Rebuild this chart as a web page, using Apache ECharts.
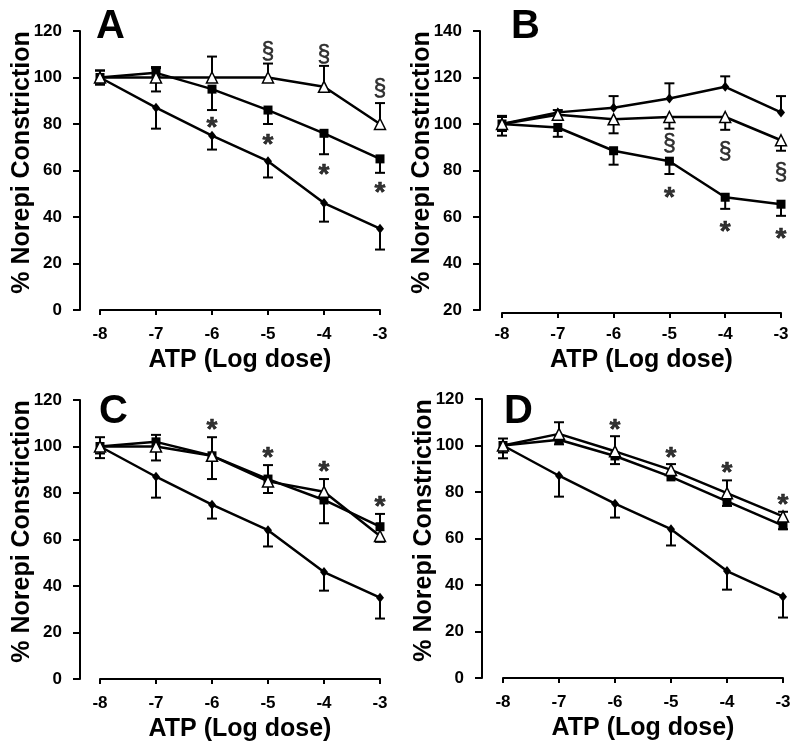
<!DOCTYPE html>
<html lang="en">
<head>
<meta charset="UTF-8">
<title>ATP dose response</title>
<script src="https://cdn.jsdelivr.net/npm/echarts@6/dist/echarts.min.js"></script>
<style>
body { margin: 0; background: #fff; }
#main { width: 800px; height: 748px; }
</style>
</head>
<body>
<div id="main"></div>
<script>
// doses (log M)
var doses = [-8, -7, -6, -5, -4, -3];

// panel A
var aCtrl = [100, 87, 75, 64, 46, 35];
var aCtrlLo = [97, 78, 69, 57, 38, 26];
var aCtrlHi = [103, null, null, null, null, null];
var aSq = [100, 102, 95, 86, 76, 65];
var aSqLo = [97, null, 86, 80, 67, 59];
var aSqHi = [null, 104.5, null, null, null, null];
var aTri = [100, 100, 100, 100, 96, 80];
var aTriLo = [null, 94, null, null, null, null];
var aTriHi = [103, 104, 109, 106, 105, 89];
var aStar = [[-6, 81], [-5, 74], [-4, 61], [-3, 53]];
var aSect = [[-5, 111], [-4, 110], [-3, 95]];

// panel B
var bCtrl = [100, 105, 107, 111, 116, 105];
var bCtrlLo = [97, null, null, null, null, null];
var bCtrlHi = [103, 106, 112, 117.5, 120.5, 112];
var bSq = [100, 98.5, 88.5, 84, 68.5, 65.5];
var bSqLo = [95, 94.5, 82.5, 78.5, 63.5, 60.5];
var bSqHi = [null, null, null, null, null, null];
var bTri = [100, 104, 102, 103, 103, 93];
var bTriLo = [null, null, 96, 98, 97.5, 88.5];
var bTriHi = [103.5, null, null, null, null, null];
var bStar = [[-5, 71], [-4, 56.5], [-3, 53.5]];
var bSect = [[-5, 91.5], [-4, 88], [-3, 79]];

// panel C
var cCtrl = [100, 87, 75, 64, 46, 35];
var cCtrlLo = [97, 78, 69, 57, 38, 26];
var cCtrlHi = [null, null, null, null, null, null];
var cSq = [100, 102, 96, 86, 77, 65.5];
var cSqLo = [95, null, 86, null, 67, null];
var cSqHi = [null, null, null, null, null, null];
var cTri = [100, 100, 96, 85, 80.5, 61.5];
var cTriLo = [null, 94, null, 80, null, 59];
var cTriHi = [104, 105, 104, 92, 86, 71];
var cStar = [[-6, 110], [-5, 98], [-4, 92], [-3, 77]];

// panel D
var dCtrl = [100, 87, 75, 64, 46, 35];
var dCtrlLo = [97, 78, 69, 57, 38, 26];
var dCtrlHi = [null, null, null, null, null, null];
var dSq = [100, 102.5, 95.5, 86.5, 76, 65.5];
var dSqLo = [94.5, 100.5, 92, null, 74, 64];
var dSqHi = [103, null, null, null, null, null];
var dTri = [100, 105, 97.5, 89.5, 79.5, 69.5];
var dTriLo = [null, null, null, null, null, null];
var dTriHi = [null, 110, 104, 92, 85, 71.5];
var dStar = [[-6, 109.5], [-5, 97.5], [-4, 91], [-3, 77.5]];

var FONT = 'Liberation Sans, Arial, sans-serif';

function pts(ys) {
    return doses.map(function (x, i) { return [x, ys[i]]; });
}

function bars(ys, lo, hi) {
    var out = [];
    doses.forEach(function (x, i) {
        if (lo[i] != null) out.push([x, ys[i], lo[i]]);
        if (hi[i] != null) out.push([x, ys[i], hi[i]]);
    });
    return out;
}

function errRender(params, api) {
    var x = api.value(0);
    var p0 = api.coord([x, api.value(1)]);
    var p1 = api.coord([x, api.value(2)]);
    var w = 5;
    return {
        type: 'group',
        children: [
            { type: 'line', shape: { x1: p0[0], y1: p0[1], x2: p1[0], y2: p1[1] },
              style: { stroke: '#000', lineWidth: 2 } },
            { type: 'line', shape: { x1: p1[0] - w, y1: p1[1], x2: p1[0] + w, y2: p1[1] },
              style: { stroke: '#000', lineWidth: 2 } }
        ]
    };
}

var series = [];
function addPanel(idx, ctrl, ctrlLo, ctrlHi, sq, sqLo, sqHi, tri, triLo, triHi, stars, sects) {
    var common = { xAxisIndex: idx, yAxisIndex: idx };
    [[ctrl, ctrlLo, ctrlHi], [sq, sqLo, sqHi], [tri, triLo, triHi]].forEach(function (s) {
        series.push(Object.assign({
            type: 'custom', renderItem: errRender, clip: false, z: 2,
            data: bars(s[0], s[1], s[2])
        }, common));
    });
    series.push(Object.assign({
        type: 'line', data: pts(ctrl), symbol: 'diamond', symbolSize: [8, 10],
        lineStyle: { color: '#000', width: 2.5 }, itemStyle: { color: '#000' }, z: 3
    }, common));
    series.push(Object.assign({
        type: 'line', data: pts(sq), symbol: 'rect', symbolSize: 9,
        lineStyle: { color: '#000', width: 2.5 }, itemStyle: { color: '#000' }, z: 3
    }, common));
    series.push(Object.assign({
        type: 'line', data: pts(tri), symbol: 'triangle', symbolSize: 11,
        lineStyle: { color: '#000', width: 2.5 },
        itemStyle: { color: '#fff', borderColor: '#000', borderWidth: 1.5 }, z: 4
    }, common));
    series.push(Object.assign({
        type: 'scatter', data: stars, symbol: 'circle', symbolSize: 1,
        itemStyle: { color: 'rgba(0,0,0,0)' }, z: 5,
        label: { show: true, position: 'inside', formatter: '*', color: '#000',
                 fontSize: 28, fontWeight: 'bold', fontFamily: FONT, offset: [0, 7],
                 textBorderColor: '#000', textBorderWidth: 0.6 }
    }, common));
    if (sects) {
        series.push(Object.assign({
            type: 'scatter', data: sects, symbol: 'circle', symbolSize: 1,
            itemStyle: { color: 'rgba(0,0,0,0)' }, z: 5,
            label: { show: true, position: 'inside', formatter: '\u00a7', color: '#000',
                     fontSize: 23, fontFamily: FONT, offset: [0, 1],
                     textBorderColor: '#000', textBorderWidth: 0.5 }
        }, common));
    }
}

addPanel(0, aCtrl, aCtrlLo, aCtrlHi, aSq, aSqLo, aSqHi, aTri, aTriLo, aTriHi, aStar, aSect);
addPanel(1, bCtrl, bCtrlLo, bCtrlHi, bSq, bSqLo, bSqHi, bTri, bTriLo, bTriHi, bStar, bSect);
addPanel(2, cCtrl, cCtrlLo, cCtrlHi, cSq, cSqLo, cSqHi, cTri, cTriLo, cTriHi, cStar, null);
addPanel(3, dCtrl, dCtrlLo, dCtrlHi, dSq, dSqLo, dSqHi, dTri, dTriLo, dTriHi, dStar, null);

var grids = [
    { left: 100, top: 31, width: 280, height: 279 },
    { left: 502, top: 31, width: 279, height: 279 },
    { left: 100, top: 400, width: 280, height: 279 },
    { left: 503, top: 399, width: 280, height: 279 }
];
var yRanges = [[0, 120], [20, 140], [0, 120], [0, 120]];
var yOffsets = [20, 22, 20, 21];

function xAx(i) {
    return {
        type: 'value', gridIndex: i, min: -8, max: -3, interval: 1, offset: 3,
        axisLine: { lineStyle: { color: '#000', width: 2 } },
        axisTick: { length: 5, lineStyle: { color: '#000', width: 2 } },
        splitLine: { show: false },
        axisLabel: { color: '#000', fontSize: 17, fontWeight: 'bold', fontFamily: FONT, margin: 13 },
        name: 'ATP (Log dose)', nameLocation: 'middle', nameGap: 35, nameMoveOverlap: false,
        nameTextStyle: { color: '#000', fontSize: 25, fontWeight: 'bold', fontFamily: FONT }
    };
}
function yAx(i) {
    return {
        type: 'value', gridIndex: i, min: yRanges[i][0], max: yRanges[i][1], interval: 20,
        offset: yOffsets[i],
        axisLine: { show: true, lineStyle: { color: '#000', width: 2 } },
        axisTick: { show: true, length: 7, lineStyle: { color: '#000', width: 2 } },
        splitLine: { show: false },
        axisLabel: { color: '#000', fontSize: 17, fontWeight: 'bold', fontFamily: FONT, margin: 18 },
        name: '% Norepi Constriction', nameLocation: 'middle', nameGap: 45, nameMoveOverlap: false,
        nameTextStyle: { color: '#000', fontSize: 25, fontWeight: 'bold', fontFamily: FONT,
                         padding: [0, 0, 0, 16] }
    };
}

var letters = ['A', 'B', 'C', 'D'];
var letterPos = [[96, 7], [511, 7], [99, 392], [504, 392]];

var myChart = echarts.init(document.getElementById('main'));
myChart.setOption({
    animation: false,
    backgroundColor: '#fff',
    title: letters.map(function (t, i) {
        return { text: t, left: letterPos[i][0], top: letterPos[i][1], padding: 0,
                 textStyle: { fontSize: 40, fontWeight: 'bold', color: '#000', fontFamily: FONT } };
    }),
    grid: grids,
    xAxis: [0, 1, 2, 3].map(xAx),
    yAxis: [0, 1, 2, 3].map(yAx),
    series: series
});
</script>
</body>
</html>
